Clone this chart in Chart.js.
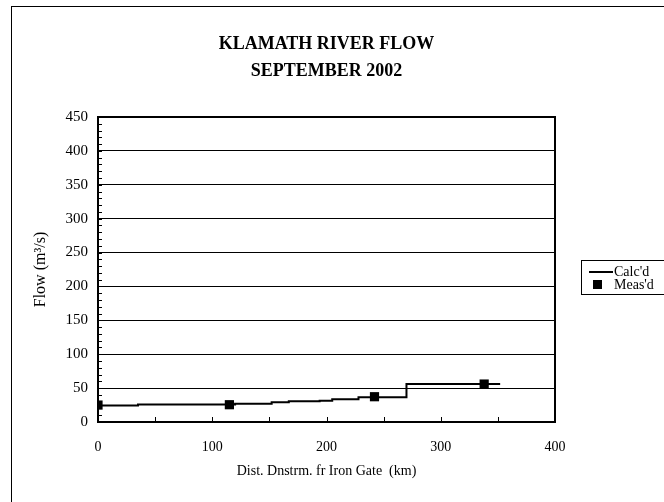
<!DOCTYPE html>
<html>
<head>
<meta charset="utf-8">
<script src="https://cdn.jsdelivr.net/npm/chart.js@4"></script>
<style>
  html, body { margin: 0; padding: 0; background: #fff; overflow: hidden; }
  #frame {
    position: absolute; left: 11px; top: 6px;
    width: 720px; height: 520px;
    border: 1px solid #000;
  }
  canvas { display: block; }
</style>
</head>
<body>
<div id="frame"><canvas id="flowChart" width="720" height="520"></canvas></div>
<script>
// calculated flow: each point starts a new step (km, m3/s)
const calcKm   = [0, 35, 120, 152, 167, 194, 205, 228, 270, 352];
const calcFlow = [24.5, 26, 27, 29, 30.5, 31.5, 33.5, 36.5, 56, 56];

// measured flow at gauges
const measKm   = [0, 115, 242, 338];
const measFlow = [25, 25.5, 37.3, 56];

const xTicks = [0, 100, 200, 300, 400];
const yTicks = [0, 50, 100, 150, 200, 250, 300, 350, 400, 450];

const serif = "'Liberation Serif', 'Times New Roman', serif";

// frame round the plot, small inside ticks, and the boxed legend
const plotDecor = {
    id: 'plotDecor',
    afterDatasetsDraw(chart) {
        const { ctx, chartArea: a, scales: { x, y } } = chart;
        ctx.save();
        ctx.strokeStyle = '#000';
        ctx.lineWidth = 1;
        for (let v = 10; v < 450; v += 10) {
            const py = Math.round(y.getPixelForValue(v)) + 0.5;
            ctx.beginPath();
            ctx.moveTo(a.left, py);
            ctx.lineTo(a.left + 4, py);
            ctx.stroke();
        }
        for (let v = 50; v < 400; v += 50) {
            const px = Math.round(x.getPixelForValue(v)) + 0.5;
            ctx.beginPath();
            ctx.moveTo(px, a.bottom);
            ctx.lineTo(px, a.bottom - 5);
            ctx.stroke();
        }
        ctx.lineWidth = 2;
        ctx.strokeRect(a.left, a.top, a.right - a.left, a.bottom - a.top);

        // legend
        const lx = 569, ly = 253;
        ctx.lineWidth = 1;
        ctx.strokeRect(lx + 0.5, ly + 0.5, 130, 34);
        ctx.font = '14px ' + serif;
        ctx.fillStyle = '#000';
        ctx.textBaseline = 'middle';
        const ds = chart.data.datasets;
        ctx.lineWidth = 2;
        ctx.beginPath();
        ctx.moveTo(lx + 8, ly + 12);
        ctx.lineTo(lx + 32, ly + 12);
        ctx.stroke();
        ctx.fillText(ds[0].label, lx + 33, ly + 12);
        ctx.fillRect(lx + 12, ly + 20, 9, 9);
        ctx.fillText(ds[1].label, lx + 33, ly + 25);
        ctx.restore();
    }
};

new Chart(document.getElementById('flowChart'), {
    type: 'scatter',
    data: {
        datasets: [
            {
                label: "Calc'd",
                type: 'line',
                data: calcKm.map((k, i) => ({ x: k, y: calcFlow[i] })),
                stepped: true,
                borderColor: '#000',
                borderWidth: 2,
                pointRadius: 0,
                fill: false,
                order: 2
            },
            {
                label: "Meas'd",
                data: measKm.map((k, i) => ({ x: k, y: measFlow[i] })),
                pointStyle: 'rect',
                pointRadius: 6.5,
                backgroundColor: '#000',
                borderColor: '#000',
                borderWidth: 0,
                order: 1
            }
        ]
    },
    plugins: [plotDecor],
    options: {
        responsive: false,
        animation: false,
        layout: { padding: { left: 0, right: 177, top: 0, bottom: 25 } },
        plugins: {
            legend: { display: false },
            tooltip: { enabled: false },
            title: {
                display: true,
                fullSize: false,
                text: ['KLAMATH RIVER FLOW', 'SEPTEMBER 2002'],
                color: '#000',
                font: { family: serif, size: 18, weight: 'bold', lineHeight: 1.5 },
                padding: { top: 24, bottom: 32 }
            }
        },
        scales: {
            x: {
                type: 'linear',
                min: 0,
                max: 400,
                afterBuildTicks: s => { s.ticks = xTicks.map(v => ({ value: v })); },
                afterFit: s => { s.height = 80; },
                grid: { display: false, drawTicks: false },
                border: { display: false },
                ticks: { color: '#000', font: { family: serif, size: 14 }, padding: 17, maxRotation: 0 },
                title: {
                    display: true,
                    text: 'Dist. Dnstrm. fr Iron Gate  (km)',
                    color: '#000',
                    font: { family: serif, size: 14 },
                    padding: { top: 0, bottom: 22 }
                }
            },
            y: {
                min: 0,
                max: 450,
                afterBuildTicks: s => { s.ticks = yTicks.map(v => ({ value: v })); },
                afterFit: s => { s.width = 86; },
                grid: { color: '#000', lineWidth: 1, drawTicks: false },
                border: { display: false },
                ticks: { color: '#000', font: { family: serif, size: 15 }, padding: 10 },
                title: {
                    display: true,
                    text: 'Flow (m³/s)',
                    color: '#000',
                    font: { family: serif, size: 16 },
                    padding: { top: 19, bottom: 0 }
                }
            }
        }
    }
});
</script>
</body>
</html>
